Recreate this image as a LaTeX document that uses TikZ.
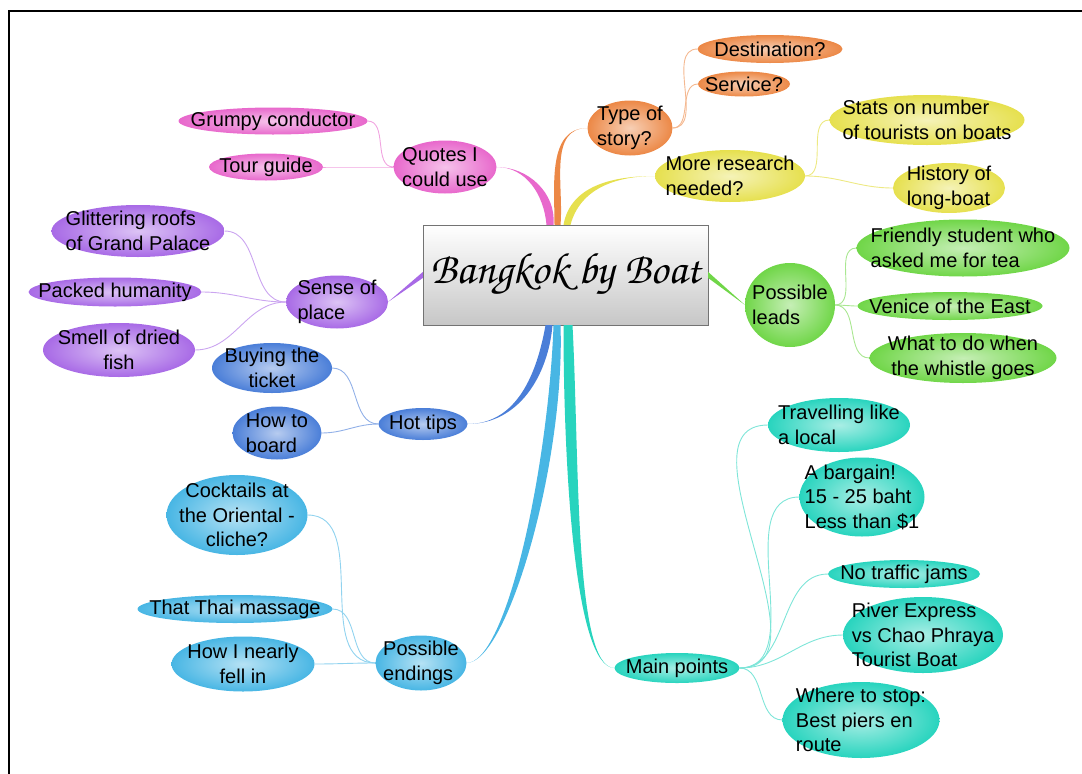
\documentclass[tikz,border=0pt]{standalone}
\usepackage[T1]{fontenc}
\usepackage{fontspec}
\setmainfont{Liberation Sans}
\usetikzlibrary{shapes.geometric}

\definecolor{pinkc}{RGB}{232,104,204}
\definecolor{orangec}{RGB}{236,136,70}
\definecolor{yellowc}{RGB}{230,224,78}
\definecolor{purplec}{RGB}{168,106,230}
\definecolor{greenc}{RGB}{112,214,72}
\definecolor{bluec}{RGB}{74,126,216}
\definecolor{skyc}{RGB}{72,182,228}
\definecolor{tealc}{RGB}{40,212,190}

\begin{document}
\begin{tikzpicture}[x=1pt,y=1pt]
        \tikzstyle{bubble} = [ellipse, inner xsep=-90pt, inner ysep=-40pt, outer sep=0pt, align=left, font=\fontsize{20}{24.5}\selectfont]
        \tikzstyle{twig} = [line width=0.9pt]

		\useasboundingbox (0,0) rectangle (1082,-774);
		\draw[line width=2.5pt] (9,-774) -- (9,-11) -- (1082,-11);

		% centre
		\node[draw=black!55, top color=white, middle color=white!96!black, bottom color=black!22, minimum width=285pt, minimum height=100pt] (title) at (565.5,-275) {\fontencoding{T1}\fontfamily{pzc}\fontsize{44}{50}\selectfont Bangkok by Boat};

		% main topics
		\node[bubble, inner color=pinkc!40!white, outer color=pinkc, minimum width=103pt, minimum height=53pt] (quotes) at (445,-167) {Quotes I\\could use};
		\node[bubble, inner color=orangec!40!white, outer color=orangec, minimum width=85pt, minimum height=55pt] (story) at (630,-128) {Type of\\story?};
		\node[bubble, inner color=yellowc!40!white, outer color=yellowc, minimum width=150pt, minimum height=52pt] (research) at (730,-176) {More research\\needed?};
		\node[bubble, inner color=purplec!40!white, outer color=purplec, minimum width=102pt, minimum height=53pt] (sense) at (337,-302) {Sense of\\place};
		\node[bubble, inner color=greenc!40!white, outer color=greenc, minimum width=90pt, minimum height=84pt] (leads) at (790,-305) {Possible\\leads};
		\node[bubble, inner color=bluec!40!white, outer color=bluec, minimum width=89pt, minimum height=32pt] (hottips) at (423,-424) {Hot tips};
		\node[bubble, inner color=skyc!40!white, outer color=skyc, minimum width=91pt, minimum height=55pt] (endings) at (421,-663) {Possible\\endings};
		\node[bubble, inner color=tealc!40!white, outer color=tealc, minimum width=125pt, minimum height=30pt] (mainpts) at (677,-668) {Main points};

		% quotes
		\node[bubble, inner color=pinkc!40!white, outer color=pinkc, minimum width=189pt, minimum height=27pt] (grumpy) at (273,-121) {Grumpy conductor};
		\node[bubble, inner color=pinkc!40!white, outer color=pinkc, minimum width=114pt, minimum height=27pt] (guide) at (266,-167) {Tour guide};

		% type of story
		\node[bubble, inner color=orangec!40!white, outer color=orangec, minimum width=145pt, minimum height=28pt] (dest) at (770,-49) {Destination?};
		\node[bubble, inner color=orangec!40!white, outer color=orangec, minimum width=92pt, minimum height=25pt] (service) at (744,-84) {Service?};

		% research
		\node[bubble, inner color=yellowc!40!white, outer color=yellowc, minimum width=195pt, minimum height=50pt] (stats) at (927,-120) {Stats on number\\of tourists on boats};
		\node[bubble, inner color=yellowc!40!white, outer color=yellowc, minimum width=112pt, minimum height=50pt] (history) at (949,-188) {History of\\long-boat};

		% sense of place
		\node[bubble, inner color=purplec!40!white, outer color=purplec, minimum width=173pt, minimum height=52pt] (roofs) at (138,-231) {Glittering roofs\\of Grand Palace};
		\node[bubble, inner color=purplec!40!white, outer color=purplec, minimum width=173pt, minimum height=29pt] (packed) at (115,-292) {Packed humanity};
		\node[bubble, inner color=purplec!40!white, outer color=purplec, minimum width=152pt, minimum height=54pt, align=center] (fish) at (119,-350) {Smell of dried\\fish};

		% leads
		\node[bubble, inner color=greenc!40!white, outer color=greenc, minimum width=213pt, minimum height=57pt] (student) at (963,-248) {Friendly student who\\asked me for tea};
		\node[bubble, inner color=greenc!40!white, outer color=greenc, minimum width=185pt, minimum height=28pt] (venice) at (950,-306) {Venice of the East};
		\node[bubble, inner color=greenc!40!white, outer color=greenc, minimum width=187pt, minimum height=50pt, align=center] (whistle) at (963,-358) {What to do when\\the whistle goes};

		% hot tips
		\node[bubble, inner color=bluec!40!white, outer color=bluec, minimum width=120pt, minimum height=50pt, align=center] (ticket) at (272,-368) {Buying the\\ticket};
		\node[bubble, inner color=bluec!40!white, outer color=bluec, minimum width=89pt, minimum height=53pt] (board) at (277,-433) {How to\\board};

		% endings
		\node[bubble, inner color=skyc!40!white, outer color=skyc, minimum width=141pt, minimum height=80pt, align=center] (cocktails) at (237,-515) {Cocktails at\\the Oriental -\\cliche?};
		\node[bubble, inner color=skyc!40!white, outer color=skyc, minimum width=195pt, minimum height=28pt] (massage) at (235,-609) {That Thai massage};
		\node[bubble, inner color=skyc!40!white, outer color=skyc, minimum width=143pt, minimum height=55pt, align=center] (fellin) at (243,-664) {How I nearly\\fell in};

		% main points
		\node[bubble, inner color=tealc!40!white, outer color=tealc, minimum width=142pt, minimum height=54pt] (local) at (839,-425) {Travelling like\\a local};
		\node[bubble, inner color=tealc!40!white, outer color=tealc, minimum width=125pt, minimum height=79pt] (bargain) at (862,-497) {A bargain!\\15 - 25 baht\\Less than \$1};
		\node[bubble, inner color=tealc!40!white, outer color=tealc, minimum width=152pt, minimum height=28pt] (traffic) at (904,-574) {No traffic jams};
		\node[bubble, inner color=tealc!40!white, outer color=tealc, minimum width=160pt, minimum height=76pt] (express) at (923,-635) {River Express\\vs Chao Phraya\\Tourist Boat};
		\node[bubble, inner color=tealc!40!white, outer color=tealc, minimum width=157pt, minimum height=76pt] (piers) at (861,-720) {Where to stop:\\Best piers en\\route};

		% main branches
		\fill[pinkc] ([xshift=-19pt]title.north) to[out=95,in=0] (quotes.east) to[out=0,in=85] ([xshift=-12pt]title.north) -- cycle;
		\fill[orangec] ([xshift=-11pt]title.north) to[out=90,in=180] (story.west) to[out=180,in=85] ([xshift=-5pt]title.north) -- cycle;
		\fill[yellowc] ([xshift=-2pt]title.north) to[out=80,in=180] (research.west) to[out=180,in=75] ([xshift=5pt]title.north) -- cycle;
		\fill[purplec] ([yshift=3pt]title.west) -- (sense.east) -- ([yshift=-3pt]title.west) -- cycle;
		\fill[greenc] ([yshift=3pt]title.east) -- (leads.west) -- ([yshift=-3pt]title.east) -- cycle;
		\fill[bluec] ([xshift=-20pt]title.south) to[out=-100,in=0] (hottips.east) to[out=0,in=-95] ([xshift=-13pt]title.south) -- cycle;
		\fill[skyc] ([xshift=-12pt]title.south) to[out=-92,in=0,in looseness=0.3] (endings.east) to[out=0,in=-88,out looseness=0.3] ([xshift=-5pt]title.south) -- cycle;
		\fill[tealc] ([xshift=-2pt]title.south) to[out=-90,in=180,in looseness=0.3] (mainpts.west) to[out=180,in=-87,out looseness=0.3] ([xshift=7pt]title.south) -- cycle;

		% twigs
		\draw[twig, pinkc!60!white] (quotes.west) to[out=180,in=0] (grumpy.east);
		\draw[twig, pinkc!60!white] (quotes.west) to[out=180,in=0] (guide.east);
		\draw[twig, orangec!60!white] (story.east) to[out=0,in=180] (dest.west);
		\draw[twig, orangec!60!white] (story.east) to[out=0,in=180] (service.west);
		\draw[twig, yellowc!70!white] (research.east) to[out=0,in=180] (stats.west);
		\draw[twig, yellowc!70!white] (research.east) to[out=0,in=180] (history.west);
		\draw[twig, purplec!60!white] (sense.west) to[out=180,in=0] (roofs.east);
		\draw[twig, purplec!60!white] (sense.west) to[out=180,in=0] (packed.east);
		\draw[twig, purplec!60!white] (sense.west) to[out=180,in=0] (fish.east);
		\draw[twig, greenc!60!white] (leads.east) to[out=0,in=180] (student.west);
		\draw[twig, greenc!60!white] (leads.east) to[out=0,in=180] (venice.west);
		\draw[twig, greenc!60!white] (leads.east) to[out=0,in=180] (whistle.west);
		\draw[twig, bluec!60!white] (hottips.west) to[out=180,in=0] (ticket.east);
		\draw[twig, bluec!60!white] (hottips.west) to[out=180,in=0] (board.east);
		\draw[twig, skyc!60!white] (endings.west) to[out=180,in=0] (cocktails.east);
		\draw[twig, skyc!60!white] (endings.west) to[out=180,in=0] (massage.east);
		\draw[twig, skyc!60!white] (endings.west) to[out=180,in=0] (fellin.east);
		\draw[twig, tealc!60!white] (mainpts.east) to[out=0,in=180] (local.west);
		\draw[twig, tealc!60!white] (mainpts.east) to[out=0,in=180] (bargain.west);
		\draw[twig, tealc!60!white] (mainpts.east) to[out=0,in=180] (traffic.west);
		\draw[twig, tealc!60!white] (mainpts.east) to[out=0,in=180] (express.west);
		\draw[twig, tealc!60!white] (mainpts.east) to[out=0,in=180] (piers.west);

    \end{tikzpicture}
\end{document}
